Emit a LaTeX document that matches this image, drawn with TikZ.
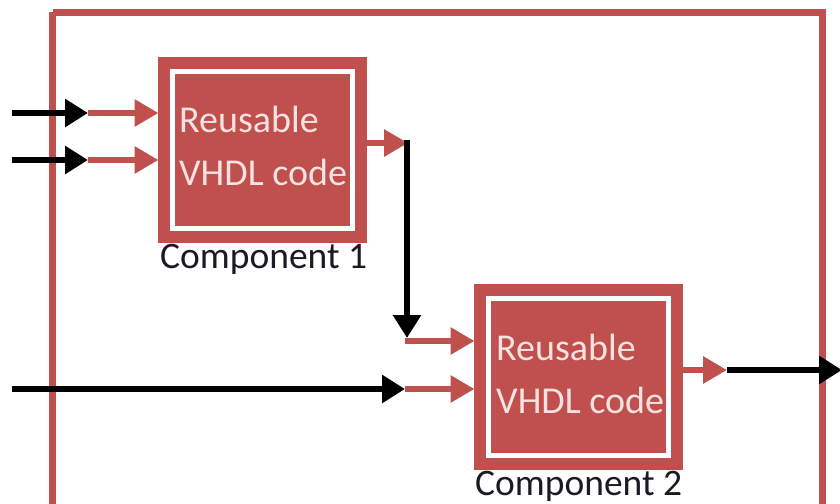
\documentclass[tikz,border=0pt]{standalone}
\usepackage{fontspec}
\setmainfont{Carlito}
\usetikzlibrary{arrows.meta}
\definecolor{vred}{HTML}{C0504D}
\definecolor{vpink}{HTML}{F6E2E1}
\definecolor{vtext}{HTML}{1A1A22}
\tikzset{
  compbox/.style={draw=vred, fill=vred, line width=1pt, minimum width=208pt, minimum height=185pt, inner sep=0pt, outer sep=0pt},
  boxtext/.style={anchor=base west, text=vpink, inner sep=0pt, font=\fontsize{38}{44}\selectfont},
  labeltext/.style={anchor=base west, text=vtext, inner sep=0pt, font=\fontsize{37.5}{44}\selectfont},
  blackarrow/.style={draw=black, line width=6.5pt, -{Triangle[length=23pt,width=27pt]}},
  redarrow/.style={draw=vred, line width=6.5pt, -{Triangle[length=24pt,width=26pt]}},
  frameline/.style={draw=vred, line width=7pt},
}
\begin{document}
\begin{tikzpicture}[x=1pt,y=-1pt]
\useasboundingbox (0,0) rectangle (840,503);
\clip (0,0) rectangle (840,503);
% outer frame
\draw[frameline] (52.5,12.5) -- (822,12.5) -- (822,530) (52.5,12.5) -- (52.5,530);
% component boxes
\node[compbox] (b1) at (262.5,150) {};
\node[compbox] (b2) at (578.5,377) {};
\draw[white, line width=4.5pt] ([shift={(14,14)}]b1.north west) rectangle ([shift={(-14,-14)}]b1.south east);
\draw[white, line width=4.5pt] ([shift={(14,14)}]b2.north west) rectangle ([shift={(-14,-14)}]b2.south east);
% texts
\node[boxtext] (b1t1) at (179,132) {Reusable};
\node[boxtext] (b1t2) at (179,185) {VHDL code};
\node[boxtext] (b2t1) at (496,360) {Reusable};
\node[boxtext] (b2t2) at (496,413) {VHDL code};
\node[labeltext] (l1) at (160,268) {Component 1};
\node[labeltext] (l2) at (475,495) {Component 2};
% coordinates
\coordinate (i1s) at (12,113);
\coordinate (i1m) at (88,113);
\coordinate (i2s) at (12,160);
\coordinate (i2m) at (88,160);
\coordinate (o1m) at (408,143);
\coordinate (o1t) at (407,140);
\coordinate (d1) at (407,338);
\coordinate (d2) at (405,341);
\coordinate (i3s) at (12,389);
\coordinate (i3m) at (405,389);
\coordinate (o2m) at (727,370);
\coordinate (o2e) at (842,370);
% component 1 inputs
\draw[blackarrow] (i1s) -- (i1m);
\draw[redarrow] (i1m) -- (b1.west |- i1m);
\draw[blackarrow] (i2s) -- (i2m);
\draw[redarrow] (i2m) -- (b1.west |- i2m);
% component 1 output to component 2
\draw[redarrow] (b1.east |- o1m) -- (o1m);
\draw[blackarrow] (o1t) -- (d1);
\draw[redarrow] (d2) -- (b2.west |- d2);
% second input
\draw[blackarrow] (i3s) -- (i3m);
\draw[redarrow] (i3m) -- (b2.west |- i3m);
% component 2 output
\draw[redarrow] (b2.east |- o2m) -- (o2m);
\draw[blackarrow] (o2m) -- (o2e);
\end{tikzpicture}
\end{document}
